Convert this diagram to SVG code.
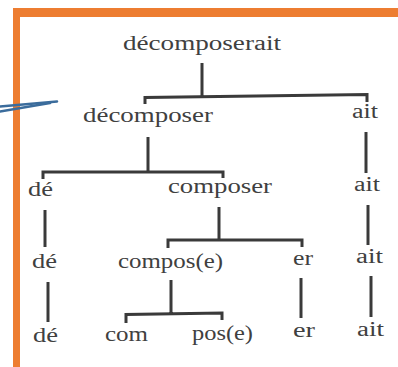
<svg xmlns="http://www.w3.org/2000/svg" width="398" height="367" viewBox="0 0 398 367">
<style>
text{font-family:"Liberation Serif","DejaVu Serif",serif;font-size:20px;fill:#404040}
.c{stroke:#3a3a3a;stroke-width:3;fill:none;stroke-linecap:butt;stroke-linejoin:miter}
.frame{fill:#ed7d31}
.blue{stroke:#3b6c9c;stroke-width:2.6;stroke-linecap:round}
</style>
<rect width="398" height="367" fill="#ffffff"/>
<g id="frame">
<rect class="frame" x="13" y="8" width="385" height="9"/>
<rect class="frame" x="13" y="8" width="7" height="359"/>
</g>
<g id="pointer">
<line class="blue" x1="0" y1="106.5" x2="57" y2="101.5"/>
<line class="blue" x1="0" y1="111.5" x2="50" y2="103"/>
</g>
<g id="connectors">
<path class="c" d="M202,63 V96 M145,104 V97.5 L367,94.5 V102"/>
<path class="c" d="M148,137 V171 M43,179 V172 H223 V178"/>
<path class="c" d="M366,132 V173"/>
<path class="c" d="M368,205 V245"/>
<path class="c" d="M45,210 V247"/>
<path class="c" d="M219,207 V240 M168,248 V240 H302 V247"/>
<path class="c" d="M48,282 V322"/>
<path class="c" d="M171,280 V314 M126,323 V314.5 L222,313 V320"/>
<path class="c" d="M301,278 V318"/>
<path class="c" d="M371,276 V317"/>
</g>
<g id="n-decomposerait"><text x="123" y="50" textLength="158" lengthAdjust="spacingAndGlyphs">décomposerait</text></g>
<g id="n-decomposer"><text x="83" y="122" textLength="130" lengthAdjust="spacingAndGlyphs">décomposer</text></g>
<g id="n-ait1"><text x="352" y="118" textLength="26" lengthAdjust="spacingAndGlyphs">ait</text></g>
<g id="n-de1"><text x="28" y="196" textLength="25" lengthAdjust="spacingAndGlyphs">dé</text></g>
<g id="n-composer"><text x="168" y="193" textLength="104" lengthAdjust="spacingAndGlyphs">composer</text></g>
<g id="n-ait2"><text x="354" y="191" textLength="26" lengthAdjust="spacingAndGlyphs">ait</text></g>
<g id="n-de2"><text x="32" y="268" textLength="25" lengthAdjust="spacingAndGlyphs">dé</text></g>
<g id="n-composE"><text x="118" y="268" textLength="105" lengthAdjust="spacingAndGlyphs">compos(e)</text></g>
<g id="n-er1"><text x="293" y="265" textLength="20" lengthAdjust="spacingAndGlyphs">er</text></g>
<g id="n-ait3"><text x="356" y="263" textLength="27" lengthAdjust="spacingAndGlyphs">ait</text></g>
<g id="n-de3"><text x="33" y="342" textLength="25" lengthAdjust="spacingAndGlyphs">dé</text></g>
<g id="n-com"><text x="105" y="341" textLength="43" lengthAdjust="spacingAndGlyphs">com</text></g>
<g id="n-posE"><text x="192" y="340" textLength="61" lengthAdjust="spacingAndGlyphs">pos(e)</text></g>
<g id="n-er2"><text x="293" y="337" textLength="22" lengthAdjust="spacingAndGlyphs">er</text></g>
<g id="n-ait4"><text x="357" y="336" textLength="27" lengthAdjust="spacingAndGlyphs">ait</text></g>
</svg>
